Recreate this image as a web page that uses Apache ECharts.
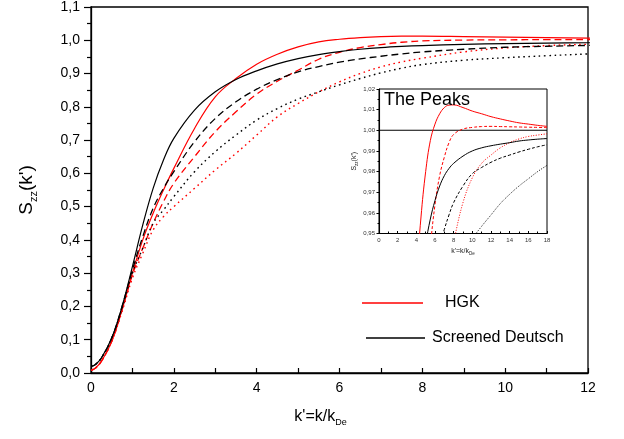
<!DOCTYPE html>
<html>
<head>
<meta charset="utf-8">
<script src="https://cdn.jsdelivr.net/npm/echarts@6/dist/echarts.min.js"></script>
<style>
html,body{margin:0;padding:0;background:#fff;}
#chart{width:624px;height:439px;}
</style>
</head>
<body>
<div id="chart"></div>
<script>
// k' values
const xs = [0,0.1,0.25,0.5,0.75,1,1.25,1.5,1.75,2,2.5,3,3.5,4,4.5,5,5.5,6,6.5,7,7.5,8,9,10,11,12,13,14,15,16,17,18];
// HGK (red)
const hgkSolid  = [0.008,0.014,0.035,0.095,0.19,0.30,0.40,0.48,0.55,0.615,0.735,0.83,0.885,0.928,0.958,0.98,0.995,1.003,1.008,1.011,1.0122,1.0123,1.011,1.0093,1.008,1.0066,1.0055,1.0045,1.0036,1.003,1.0024,1.0019];
const hgkDashed = [0.008,0.014,0.035,0.095,0.19,0.295,0.375,0.45,0.515,0.57,0.65,0.725,0.785,0.838,0.877,0.91,0.943,0.964,0.978,0.987,0.994,0.998,1.0006,1.0014,1.0018,1.0019,1.0018,1.0017,1.0016,1.0015,1.0014,1.0013];
const hgkDotted = [0.008,0.014,0.035,0.095,0.185,0.285,0.36,0.43,0.47,0.50,0.555,0.61,0.66,0.715,0.77,0.81,0.845,0.875,0.9,0.92,0.935,0.946,0.965,0.977,0.984,0.988,0.9915,0.994,0.9958,0.997,0.9977,0.9983];
// Screened Deutsch (black)
const sdSolid  = [0.02,0.025,0.045,0.105,0.2,0.32,0.445,0.555,0.64,0.705,0.79,0.845,0.882,0.908,0.929,0.945,0.957,0.966,0.973,0.978,0.9815,0.984,0.9875,0.99,0.9915,0.9925,0.9933,0.994,0.9948,0.9953,0.9957,0.996];
const sdDashed = [0.02,0.025,0.045,0.105,0.2,0.31,0.41,0.495,0.555,0.605,0.695,0.765,0.815,0.853,0.882,0.905,0.921,0.934,0.944,0.952,0.959,0.965,0.973,0.979,0.982,0.9845,0.9865,0.988,0.9895,0.9908,0.992,0.993];
const sdDotted = [0.02,0.025,0.045,0.105,0.195,0.3,0.375,0.45,0.49,0.53,0.605,0.665,0.715,0.76,0.795,0.823,0.845,0.866,0.885,0.902,0.916,0.927,0.94,0.9475,0.9535,0.959,0.9645,0.969,0.973,0.9765,0.98,0.983];
// inset reference level
const refLevel = 1.0;
const refRange = [0, 18];
// texts
const legendNames = ['HGK', 'Screened Deutsch'];
const insetTitle = 'The Peaks';

const FONT = "'Liberation Sans', Arial, sans-serif";
const RED = '#ff0000', BLACK = '#000000';
const pts = vals => xs.map((x, i) => [x, vals[i]]);

function mk(name, vals, color, type, width, gi) {
  return {
    name: name, type: 'line', data: pts(vals),
    xAxisIndex: gi, yAxisIndex: gi,
    symbol: 'none', smooth: 0.4, clip: true, legendIcon: 'rect',
    lineStyle: { color: color, width: width, type: type },
    itemStyle: { color: color },
    silent: true, z: 3
  };
}
const mainDash = [7, 4], mainDot = [1.6, 3.6];
const insDash = [3, 2], insDot = [1, 1.6];

const series = [
  mk('HGK', hgkSolid, RED, 'solid', 1.2, 0),
  mk('HGK b', hgkDashed, RED, mainDash, 1.3, 0),
  mk('HGK c', hgkDotted, RED, mainDot, 1.4, 0),
  mk('Screened Deutsch', sdSolid, BLACK, 'solid', 1.2, 0),
  mk('SD b', sdDashed, BLACK, mainDash, 1.3, 0),
  mk('SD c', sdDotted, BLACK, mainDot, 1.4, 0),
  mk('i1', hgkSolid, RED, 'solid', 1, 1),
  mk('i2', hgkDashed, RED, insDash, 1, 1),
  mk('i3', hgkDotted, RED, insDot, 1, 1),
  mk('i4', sdSolid, BLACK, 'solid', 1, 1),
  mk('i5', sdDashed, BLACK, insDash, 1, 1),
  mk('i6', sdDotted, BLACK, insDot, 1, 1),
  {
    name: 'ref', type: 'line', xAxisIndex: 1, yAxisIndex: 1, symbol: 'none', silent: true,
    data: refRange.map(x => [x, refLevel]),
    lineStyle: { color: BLACK, width: 1.1 }, z: 2
  }
];

const chart = echarts.init(document.getElementById('chart'), null, { renderer: 'canvas' });
chart.setOption({
  animation: false,
  backgroundColor: '#fff',
  textStyle: { fontFamily: FONT },
  title: {
    text: insetTitle, left: 384, top: 91, padding: 0,
    textStyle: { fontFamily: FONT, fontSize: 18, fontWeight: 'normal', color: '#000' }
  },
  legend: [
    {
      data: [legendNames[0]], left: 362, top: 295, itemWidth: 61, itemHeight: 1.3, padding: 0,
      selectedMode: false, icon: 'rect',
      textStyle: { fontFamily: FONT, fontSize: 16, color: '#000', padding: [0, 0, 0, 17] }
    },
    {
      data: [legendNames[1]], left: 366, top: 330, itemWidth: 59, itemHeight: 1.3, padding: 0,
      selectedMode: false, icon: 'rect',
      textStyle: { fontFamily: FONT, fontSize: 16, color: '#000', padding: [0, 0, 0, 2] }
    }
  ],
  grid: [
    { left: 91, top: 7, width: 497, height: 366, show: true, borderColor: '#000', borderWidth: 1.3, backgroundColor: 'transparent' },
    { left: 379, top: 89, width: 168, height: 144.5, show: true, borderColor: '#000', borderWidth: 1, backgroundColor: 'transparent' }
  ],
  xAxis: [
    {
      type: 'value', gridIndex: 0, min: 0, max: 12, interval: 2,
      name: "{a|k'=k/k}{s|De}", nameLocation: 'middle', nameGap: 33,
      nameTextStyle: { padding: [0, 38, 0, 0], rich: {
        a: { fontFamily: FONT, fontSize: 16, color: '#000' },
        s: { fontFamily: FONT, fontSize: 9, color: '#000', padding: [12, 0, 0, 0] } } },
      axisLine: { onZero: false, lineStyle: { color: '#000', width: 1.3 } },
      axisTick: { inside: true, length: 5, lineStyle: { color: '#000', width: 1.2 } },
      minorTick: { show: true, splitNumber: 2, length: 5, lineStyle: { color: '#000', width: 1.2 } },
      splitLine: { show: false },
      axisLabel: { margin: 8, fontFamily: FONT, fontSize: 14, color: '#000', formatter: v => String(v) }
    },
    {
      type: 'value', gridIndex: 1, min: 0, max: 18, interval: 2,
      name: "{a|k'=k/k}{s|De}", nameLocation: 'middle', nameGap: 13,
      nameTextStyle: { rich: {
        a: { fontFamily: FONT, fontSize: 7, color: '#222' },
        s: { fontFamily: FONT, fontSize: 4.5, color: '#222', padding: [5, 0, 0, 0] } } },
      axisLine: { onZero: false, lineStyle: { color: '#000', width: 1.1 } },
      axisTick: { inside: true, length: 2.5, lineStyle: { color: '#000', width: 1 } },
      minorTick: { show: true, splitNumber: 2, length: 2, lineStyle: { color: '#000', width: 1 } },
      splitLine: { show: false },
      axisLabel: { margin: 4, fontFamily: FONT, fontSize: 6, color: '#333', formatter: v => String(v) }
    }
  ],
  yAxis: [
    {
      type: 'value', gridIndex: 0, min: 0, max: 1.1, interval: 0.1,
      name: "{a|S}{s|zz}{a|(k')}", nameLocation: 'middle', nameRotate: 90, nameGap: 52,
      nameTextStyle: { rich: {
        a: { fontFamily: FONT, fontSize: 19, color: '#000' },
        s: { fontFamily: FONT, fontSize: 11, color: '#000', padding: [14, 0, 0, 0] } } },
      axisLine: { onZero: false, lineStyle: { color: '#000', width: 1.3 } },
      axisTick: { inside: false, length: 7, lineStyle: { color: '#000', width: 1.2 } },
      minorTick: { show: true, splitNumber: 2, length: 4, lineStyle: { color: '#000', width: 1.2 } },
      splitLine: { show: false },
      axisLabel: { margin: 11, fontFamily: FONT, fontSize: 14, color: '#000',
        formatter: v => v.toFixed(1).replace('.', ',') }
    },
    {
      type: 'value', gridIndex: 1, min: 0.95, max: 1.02, interval: 0.01,
      name: "{a|S}{s|zz}{a|(k')}", nameLocation: 'middle', nameRotate: 90, nameGap: 20,
      nameTextStyle: { rich: {
        a: { fontFamily: FONT, fontSize: 7, color: '#222' },
        s: { fontFamily: FONT, fontSize: 4.5, color: '#222', padding: [5, 0, 0, 0] } } },
      axisLine: { onZero: false, lineStyle: { color: '#000', width: 1.1 } },
      axisTick: { inside: false, length: 2.5, lineStyle: { color: '#000', width: 1 } },
      minorTick: { show: true, splitNumber: 2, length: 1.5, lineStyle: { color: '#000', width: 1 } },
      splitLine: { show: false },
      axisLabel: { margin: 4, fontFamily: FONT, fontSize: 6, color: '#333',
        formatter: v => v.toFixed(2).replace('.', ',') }
    }
  ],
  series: series
});
</script>
</body>
</html>
